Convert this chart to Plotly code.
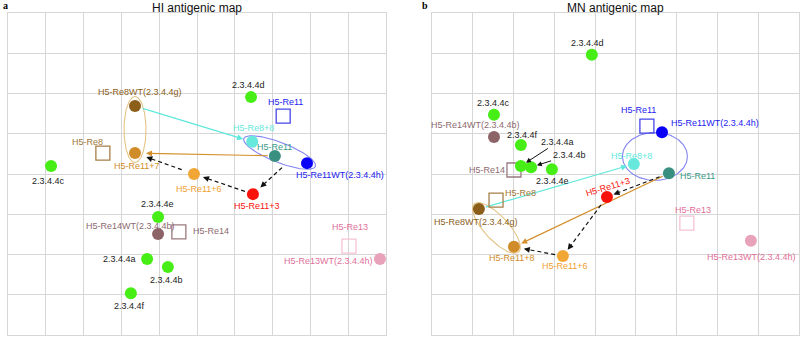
import numpy as np
import plotly.graph_objects as go

# ---------------- DATA (antigenic map units; x to the right, y upward) ----------------
# Panel a: HI antigenic map
hi_antigen_names = ["2.3.4.4d", "H5-Re8WT(2.3.4.4g)", "H5-Re11+7", "H5-Re8+8", "H5-Re11",
                    "H5-Re11WT(2.3.4.4h)", "2.3.4.4c", "H5-Re11+6", "H5-Re11+3", "2.3.4.4e",
                    "H5-Re14WT(2.3.4.4b)", "H5-Re13WT(2.3.4.4h)", "2.3.4.4a", "2.3.4.4b", "2.3.4.4f"]
hi_antigen_x = [6.43, 3.36, 3.36, 6.46, 7.06, 7.91, 1.14, 4.92, 6.48, 3.97, 3.97, 9.84, 3.68, 4.23, 3.25]
hi_antigen_y = [5.91, 5.69, 4.52, 4.80, 4.45, 4.27, 4.20, 4.00, 3.50, 2.93, 2.51, 1.89, 1.89, 1.69, 1.04]
hi_serum_names = ["H5-Re11", "H5-Re8", "H5-Re14", "H5-Re13"]
hi_serum_x = [7.28, 2.51, 4.52, 9.02]
hi_serum_y = [5.44, 4.52, 2.56, 2.21]

# Panel b: MN antigenic map
mn_antigen_names = ["2.3.4.4d", "2.3.4.4c", "H5-Re14WT(2.3.4.4b)", "2.3.4.4f", "2.3.4.4a", "2.3.4.4b",
                    "2.3.4.4e", "H5-Re11WT(2.3.4.4h)", "H5-Re8+8", "H5-Re11", "H5-Re11+3",
                    "H5-Re8WT(2.3.4.4g)", "H5-Re11+8", "H5-Re11+6", "H5-Re13WT(2.3.4.4h)"]
mn_antigen_x = [3.92, 1.52, 1.52, 2.18, 2.18, 2.43, 2.94, 5.64, 4.95, 5.81, 4.29, 1.15, 2.01, 3.21, 7.82]
mn_antigen_y = [6.96, 5.47, 4.92, 4.72, 4.20, 4.17, 4.12, 5.04, 4.25, 4.02, 3.43, 3.13, 2.19, 1.96, 2.34]
mn_serum_names = ["H5-Re11", "H5-Re14", "H5-Re8", "H5-Re13"]
mn_serum_x = [5.27, 2.01, 1.57, 6.25]
mn_serum_y = [5.19, 4.10, 3.35, 2.78]

# Passage paths (from antigen -> to antigen); a tuple source means the midpoint of those antigens
hi_paths = [("H5-Re8WT(2.3.4.4g)", "H5-Re8+8"), ("H5-Re11", "H5-Re11+7"),
            (("H5-Re11", "H5-Re11WT(2.3.4.4h)"), "H5-Re11+3"), ("H5-Re11+3", "H5-Re11+6"),
            ("H5-Re11+6", "H5-Re11+7")]
mn_paths = [("H5-Re8WT(2.3.4.4g)", "H5-Re8+8"), ("H5-Re11", "H5-Re11+8"),
            ("H5-Re11", "H5-Re11+3"), ("H5-Re11+3", "H5-Re11+6"), ("H5-Re11+6", "H5-Re11+8")]

# Antigen groupings circled on each map
hi_groups = [["H5-Re8WT(2.3.4.4g)", "H5-Re11+7"], ["H5-Re8+8", "H5-Re11WT(2.3.4.4h)"]]
mn_groups = [["H5-Re11WT(2.3.4.4h)", "H5-Re8+8", "H5-Re11"], ["H5-Re8WT(2.3.4.4g)", "H5-Re11+8"]]

# ---------------- STYLE ----------------
W, H = 800, 338
FONT = "Liberation Sans, Arial, sans-serif"
GRID = "#d6d6d6"
GREEN = "#46ee16"
DARK = "#222222"

antigen_color = {
    "2.3.4.4a": GREEN, "2.3.4.4b": GREEN, "2.3.4.4c": GREEN, "2.3.4.4d": GREEN,
    "2.3.4.4e": GREEN, "2.3.4.4f": GREEN,
    "H5-Re8WT(2.3.4.4g)": "#8b5e1a", "H5-Re11+7": "#d08c28", "H5-Re11+8": "#d08c28",
    "H5-Re11+6": "#f2a636", "H5-Re11+3": "#f8120a", "H5-Re8+8": "#66e8dc",
    "H5-Re11": "#3a9080", "H5-Re11WT(2.3.4.4h)": "#0a00f5",
    "H5-Re14WT(2.3.4.4b)": "#8c6468", "H5-Re13WT(2.3.4.4h)": "#e8a2ba",
}
antigen_label_color = dict(antigen_color)
antigen_label_color.update({
    "2.3.4.4a": DARK, "2.3.4.4b": DARK, "2.3.4.4c": DARK, "2.3.4.4d": DARK,
    "2.3.4.4e": DARK, "2.3.4.4f": DARK, "H5-Re11": "#3a9a88",
    "H5-Re11WT(2.3.4.4h)": "#2222f0", "H5-Re13WT(2.3.4.4h)": "#e0709a",
    "H5-Re14WT(2.3.4.4b)": "#8c6a70", "H5-Re11+6": "#f0a030",
})
serum_color = {"H5-Re11": "#4646e6", "H5-Re8": "#a88048", "H5-Re14": "#9a7a80", "H5-Re13": "#f6c4d4"}
serum_label_color = {"H5-Re11": "#2222f0", "H5-Re8": "#a07838", "H5-Re14": "#8c6a70", "H5-Re13": "#e0709a"}

# label placement: (xshift px, yshift px, xanchor[, textangle])
hi_antigen_lab = {
    "2.3.4.4d": (-3, 12, "center"), "H5-Re8WT(2.3.4.4g)": (5, 14, "center"),
    "H5-Re11+7": (2, -13, "center"), "H5-Re8+8": (1, 14, "center"), "H5-Re11": (0, 9, "center"),
    "H5-Re11WT(2.3.4.4h)": (33, -12, "center"), "2.3.4.4c": (-3, -15, "center"),
    "H5-Re11+6": (5, -15, "center"), "H5-Re11+3": (4, -12, "center"), "2.3.4.4e": (-1, 13, "center"),
    "H5-Re14WT(2.3.4.4b)": (-28, 8, "center"), "H5-Re13WT(2.3.4.4h)": (-5, -2, "right"),
    "2.3.4.4a": (-9, 0, "right"), "2.3.4.4b": (-1, -13, "center"), "2.3.4.4f": (-1, -13, "center"),
}
hi_serum_lab = {"H5-Re11": (2, 14, "center"), "H5-Re8": (-15, 11, "center"),
                "H5-Re14": (12, 1, "left"), "H5-Re13": (1, 19, "center")}
mn_antigen_lab = {
    "2.3.4.4d": (-4, 12, "center"), "2.3.4.4c": (0, 12, "center"),
    "H5-Re14WT(2.3.4.4b)": (-18, 12, "center"), "2.3.4.4f": (2, 10, "center"),
    "2.3.4.4e": (1, -12, "center"), "H5-Re11WT(2.3.4.4h)": (7, 9, "left"),
    "H5-Re8+8": (-2, 8, "center"), "H5-Re11": (9, -3, "left"), "H5-Re11+3": (1, 10, "center", -17),
    "H5-Re8WT(2.3.4.4g)": (-3, -13, "center"), "H5-Re11+8": (-2, -11, "center"),
    "H5-Re11+6": (2, -10, "center"), "H5-Re13WT(2.3.4.4h)": (1, -16, "center"),
}
mn_arrow_lab = {"2.3.4.4a": (37, -24), "2.3.4.4b": (38, -12)}
mn_serum_lab = {"H5-Re11": (-8, 16, "center"), "H5-Re14": (-7, 0, "right"),
                "H5-Re8": (7, 7, "left"), "H5-Re13": (6, 13, "center")}

# path styles: (colour, dash, start gap px, end gap px)
hi_path_style = [("#5ee8dc", "solid", 8, 9.5), ("#d4902c", "solid", 7, 11),
                 ("#111111", "dash", 12, 10), ("#111111", "dash", 8.5, 9.5), ("#111111", "dash", 13, 12)]
mn_path_style = [("#5ee8dc", "solid", 7, 7), ("#d4902c", "solid", 7, 8),
                 ("#111111", "dash", 10, 7), ("#111111", "dash", 10, 8), ("#111111", "dash", 8, 10)]
# group styles: (colour, kind, a px, b px)
hi_group_style = [("#e4c487", "fit", 9.5, 11), ("#8484f2", "fit", 9, 10)]
mn_group_style = [("#8484f2", "round", 32.5, 24), ("#e4c487", "fit", 7, 12)]

panels = [
    dict(key="a", title="HI antigenic map", xa="x", ya="y", xdom=[8 / W, 386 / W], xr=[0, 10],
         an=hi_antigen_names, ax_=hi_antigen_x, ay_=hi_antigen_y,
         sn=hi_serum_names, sx=hi_serum_x, sy=hi_serum_y,
         paths=hi_paths, pstyle=hi_path_style, groups=hi_groups, gstyle=hi_group_style,
         alab=hi_antigen_lab, slab=hi_serum_lab, arrlab={}),
    dict(key="b", title="MN antigenic map", xa="x2", ya="y2", xdom=[432 / W, 799 / W], xr=[0, 9],
         an=mn_antigen_names, ax_=mn_antigen_x, ay_=mn_antigen_y,
         sn=mn_serum_names, sx=mn_serum_x, sy=mn_serum_y,
         paths=mn_paths, pstyle=mn_path_style, groups=mn_groups, gstyle=mn_group_style,
         alab=mn_antigen_lab, slab=mn_serum_lab, arrlab=mn_arrow_lab),
]
YDOM = [3 / H, 325 / H]
YR = [0, 8]

fig = go.Figure()
annotations = []

for p in panels:
    kx = (p["xdom"][1] - p["xdom"][0]) * W / (p["xr"][1] - p["xr"][0])
    ky = (YDOM[1] - YDOM[0]) * H / (YR[1] - YR[0])
    pos = {n: np.array([x * kx, y * ky]) for n, x, y in zip(p["an"], p["ax_"], p["ay_"])}

    def src(s):
        if isinstance(s, tuple):
            return np.mean([pos[t] for t in s], axis=0)
        return pos[s]

    # ellipses around groups
    for grp, (col, kind, a, b) in zip(p["groups"], p["gstyle"]):
        pts = [pos[g] for g in grp]
        t = np.linspace(0, 2 * np.pi, 120)
        if kind == "fit":
            best = max(((i, j) for i in range(len(pts)) for j in range(i + 1, len(pts))),
                       key=lambda ij: np.linalg.norm(pts[ij[0]] - pts[ij[1]]))
            p0, p1 = pts[best[0]], pts[best[1]]
            c = (p0 + p1) / 2
            d = p1 - p0
            ang = np.arctan2(d[1], d[0])
            ra, rb = np.linalg.norm(d) / 2 + a, b
        else:
            c = np.mean(pts, axis=0)
            ang, ra, rb = 0.0, a, b
        ex = c[0] + ra * np.cos(t) * np.cos(ang) - rb * np.sin(t) * np.sin(ang)
        ey = c[1] + ra * np.cos(t) * np.sin(ang) + rb * np.sin(t) * np.cos(ang)
        fig.add_trace(go.Scatter(x=ex / kx, y=ey / ky, mode="lines", xaxis=p["xa"], yaxis=p["ya"],
                                 line=dict(color=col, width=1.1), hoverinfo="skip", showlegend=False))

    # passage arrows
    for (s, e), (col, dash, g0, g1) in zip(p["paths"], p["pstyle"]):
        S, T = src(s), pos[e]
        u = (T - S) / np.linalg.norm(T - S)
        A = S + u * g0
        B = T - u * g1
        Bl = B - u * 3
        fig.add_trace(go.Scatter(x=[A[0] / kx, Bl[0] / kx], y=[A[1] / ky, Bl[1] / ky], mode="lines",
                                 xaxis=p["xa"], yaxis=p["ya"],
                                 line=dict(color=col, width=1.2, dash="4px,3px" if dash == "dash" else "solid"),
                                 hoverinfo="skip", showlegend=False))
        annotations.append(dict(x=B[0] / kx, y=B[1] / ky, xref=p["xa"], yref=p["ya"], text="",
                                showarrow=True, ax=-u[0] * 7, ay=u[1] * 7, arrowhead=2, arrowsize=1,
                                arrowwidth=1.2, arrowcolor=col, standoff=0, startstandoff=0))

    # sera (open squares)
    fig.add_trace(go.Scatter(x=p["sx"], y=p["sy"], mode="markers", xaxis=p["xa"], yaxis=p["ya"],
                             marker=dict(symbol="square-open", size=14,
                                         color=[serum_color[n] for n in p["sn"]], line=dict(width=1.3)),
                             hoverinfo="text", text=p["sn"], showlegend=False))
    # antigens (filled circles)
    fig.add_trace(go.Scatter(x=p["ax_"], y=p["ay_"], mode="markers", xaxis=p["xa"], yaxis=p["ya"],
                             marker=dict(symbol="circle", size=12,
                                         color=[antigen_color[n] for n in p["an"]], line=dict(width=0)),
                             hoverinfo="text", text=p["an"], showlegend=False))

    # labels
    for n, x, y in zip(p["an"], p["ax_"], p["ay_"]):
        if n in p["arrlab"]:
            dx, dy = p["arrlab"][n]
            annotations.append(dict(x=x, y=y, xref=p["xa"], yref=p["ya"], text=n, showarrow=True,
                                    ax=dx, ay=dy, arrowhead=2, arrowsize=1, arrowwidth=1,
                                    arrowcolor="#111111", standoff=6,
                                    font=dict(family=FONT, size=9, color=antigen_label_color[n])))
            continue
        lab = p["alab"][n]
        annotations.append(dict(x=x, y=y, xref=p["xa"], yref=p["ya"], text=n, showarrow=False,
                                xshift=lab[0], yshift=lab[1], xanchor=lab[2], yanchor="middle",
                                textangle=lab[3] if len(lab) > 3 else 0,
                                font=dict(family=FONT, size=9, color=antigen_label_color[n])))
    for n, x, y in zip(p["sn"], p["sx"], p["sy"]):
        lab = p["slab"][n]
        annotations.append(dict(x=x, y=y, xref=p["xa"], yref=p["ya"], text=n, showarrow=False,
                                xshift=lab[0], yshift=lab[1], xanchor=lab[2], yanchor="middle",
                                font=dict(family=FONT, size=9, color=serum_label_color[n])))

    # title and panel letter
    annotations.append(dict(x=(p["xdom"][0] + p["xdom"][1]) / 2, y=1 - 8 / H, xref="paper", yref="paper",
                            text=p["title"], showarrow=False, xanchor="center", yanchor="middle",
                            font=dict(family=FONT, size=12, color="#111111")))

annotations.append(dict(x=5 / W, y=1 - 6 / H, xref="paper", yref="paper", text="<b>a</b>", showarrow=False,
                        xanchor="center", yanchor="middle",
                        font=dict(family="Liberation Serif, serif", size=10, color="#000000")))
annotations.append(dict(x=425 / W, y=1 - 6 / H, xref="paper", yref="paper", text="<b>b</b>", showarrow=False,
                        xanchor="center", yanchor="middle",
                        font=dict(family="Liberation Serif, serif", size=10, color="#000000")))

axis_common = dict(showticklabels=False, ticks="", showgrid=True, gridcolor=GRID, gridwidth=1,
                   zeroline=False, showline=True, mirror=True, linecolor=GRID, linewidth=1, dtick=1,
                   fixedrange=True)
fig.update_layout(
    width=W, height=H, margin=dict(l=0, r=0, t=0, b=0),
    paper_bgcolor="white", plot_bgcolor="white", showlegend=False,
    xaxis=dict(domain=panels[0]["xdom"], range=panels[0]["xr"], anchor="y", **axis_common),
    yaxis=dict(domain=YDOM, range=YR, anchor="x", **axis_common),
    xaxis2=dict(domain=panels[1]["xdom"], range=panels[1]["xr"], anchor="y2", **axis_common),
    yaxis2=dict(domain=YDOM, range=YR, anchor="x2", **axis_common),
    annotations=annotations,
)

fig.write_html("out.html", config={"displayModeBar": False},
               post_script="document.body.style.margin='0';document.body.style.overflow='hidden';")
